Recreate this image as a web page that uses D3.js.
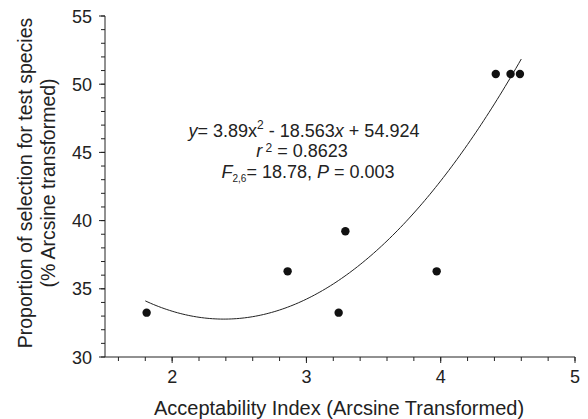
<!DOCTYPE html>
<html>
<head>
<meta charset="utf-8">
<script src="https://cdn.jsdelivr.net/npm/d3@7"></script>
<style>
  body { margin: 0; background: #fff; }
  text { font-family: "Liberation Sans", Arial, sans-serif; fill: #222; }
</style>
</head>
<body>
<script>
// observed points
const acceptability = [1.81, 2.86, 3.24, 3.29, 3.97, 4.41, 4.52, 4.59];
const selection = [33.25, 36.28, 33.25, 39.22, 36.28, 50.75, 50.75, 50.75];

// quadratic fit y = a x^2 + b x + c
const fitCoef = [3.89, -18.563, 54.924];
const fitRange = [1.8, 4.6];

const xTicks = [2, 3, 4, 5];
const yTicks = [30, 35, 40, 45, 50, 55];

const width = 588, height = 419;
const svg = d3.select("body").append("svg")
  .attr("width", width)
  .attr("height", height);

const x = d3.scaleLinear().domain([1.5, 5]).range([105, 575]);
const y = d3.scaleLinear().domain([30, 55]).range([357, 16]);

// x axis
const xg = svg.append("g").attr("transform", `translate(0,${y(30)})`);
xg.append("line").attr("x1", x(1.5)).attr("x2", x(5)).attr("stroke", "#222");
xg.selectAll(".minor")
  .data(d3.range(1.6, 5.001, 0.2))
  .join("line")
  .attr("x1", d => x(d)).attr("x2", d => x(d))
  .attr("y1", 0).attr("y2", 4)
  .attr("stroke", "#222");
xg.selectAll(".major")
  .data(xTicks)
  .join("line")
  .attr("x1", d => x(d)).attr("x2", d => x(d))
  .attr("y1", 0).attr("y2", 6)
  .attr("stroke", "#222");
xg.selectAll("text")
  .data(xTicks)
  .join("text")
  .attr("x", d => x(d))
  .attr("y", 26)
  .attr("text-anchor", "middle")
  .style("font-size", "18px")
  .text(d => d);

// y axis
const yg = svg.append("g").attr("transform", `translate(${x(1.5)},0)`);
yg.append("line").attr("y1", y(30)).attr("y2", y(55)).attr("stroke", "#222");
yg.selectAll(".minor")
  .data(d3.range(30, 55.001, 1))
  .join("line")
  .attr("y1", d => y(d)).attr("y2", d => y(d))
  .attr("x1", 0).attr("x2", -4)
  .attr("stroke", "#222");
yg.selectAll(".major")
  .data(yTicks)
  .join("line")
  .attr("y1", d => y(d)).attr("y2", d => y(d))
  .attr("x1", 0).attr("x2", -6)
  .attr("stroke", "#222");
yg.selectAll("text")
  .data(yTicks)
  .join("text")
  .attr("x", -13)
  .attr("y", d => y(d) + 6.5)
  .attr("text-anchor", "end")
  .style("font-size", "18px")
  .text(d => d);

// axis titles
svg.append("text")
  .attr("x", 339).attr("y", 415)
  .attr("text-anchor", "middle")
  .style("font-size", "20px")
  .text("Acceptability Index (Arcsine Transformed)");

const yt = svg.append("text")
  .attr("transform", "translate(0,183) rotate(-90)")
  .attr("text-anchor", "middle")
  .style("font-size", "19.5px");
yt.append("tspan").attr("x", 0).attr("y", 32).text("Proportion of selection for test species");
yt.append("tspan").attr("x", 0).attr("y", 55).text("(% Arcsine transformed)");

// fitted curve
const fit = v => fitCoef[0] * v * v + fitCoef[1] * v + fitCoef[2];
const curveX = d3.range(fitRange[0], fitRange[1] + 0.0001, 0.02);
svg.append("path")
  .datum(curveX)
  .attr("fill", "none")
  .attr("stroke", "#222")
  .attr("stroke-width", 1)
  .attr("d", d3.line().x(d => x(d)).y(d => y(fit(d))));

// points
svg.append("g")
  .selectAll("circle")
  .data(acceptability)
  .join("circle")
  .attr("cx", d => x(d))
  .attr("cy", (d, i) => y(selection[i]))
  .attr("r", 4.2)
  .attr("fill", "#111");

// equation
const eq = svg.append("g").style("font-size", "18px");
const l1 = eq.append("text").attr("x", 304).attr("y", 137).attr("text-anchor", "middle");
l1.append("tspan").style("font-style", "italic").text("y");
l1.append("tspan").text("= 3.89x");
l1.append("tspan").attr("dy", -8).style("font-size", "12px").text("2");
l1.append("tspan").attr("dy", 8).text(" - 18.563");
l1.append("tspan").style("font-style", "italic").text("x");
l1.append("tspan").text(" + 54.924");

const l2 = eq.append("text").attr("x", 302).attr("y", 157).attr("text-anchor", "middle");
l2.append("tspan").style("font-style", "italic").text("r");
l2.append("tspan").attr("dy", -5).style("font-size", "12px").text(" 2");
l2.append("tspan").attr("dy", 5).text(" = 0.8623");

const l3 = eq.append("text").attr("x", 308).attr("y", 178).attr("text-anchor", "middle");
l3.append("tspan").style("font-style", "italic").text("F");
l3.append("tspan").attr("dy", 4).style("font-size", "10px").text("2,6");
l3.append("tspan").attr("dy", -4).text("= 18.78, ");
l3.append("tspan").style("font-style", "italic").text("P");
l3.append("tspan").text(" = 0.003");
</script>
</body>
</html>
